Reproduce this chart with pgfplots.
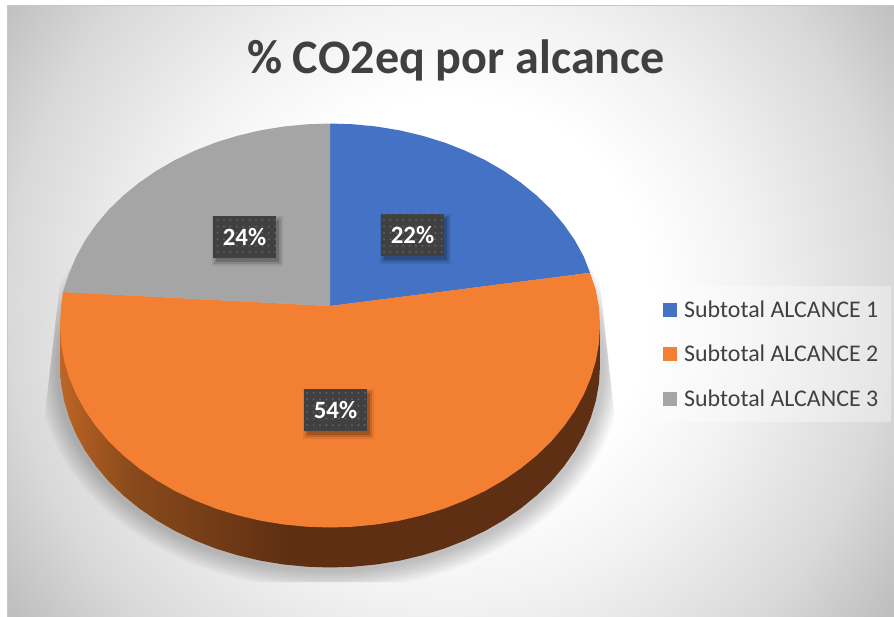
\documentclass[border=0pt]{standalone}
\usepackage{fontspec}
\setmainfont{Carlito}
\usepackage{pgfplots}
\pgfplotsset{compat=1.18}
\usetikzlibrary{patterns.meta}
\definecolor{txt}{HTML}{404040}
\definecolor{blu}{HTML}{4472C4}
\definecolor{org}{HTML}{F37F32}
\definecolor{gry}{HTML}{A5A5A5}
\definecolor{sa}{HTML}{BE6628}
\definecolor{sb}{HTML}{B25E22}
\definecolor{sc}{HTML}{8A4A1B}
\definecolor{sd}{HTML}{5E2F12}
\pgfdeclareradialshading{bgshade}{\pgfpoint{0bp}{0bp}}{
 color(0bp)=(white);color(8.8bp)=(white);color(13.2bp)=(white!95!black);
 color(19.4bp)=(white!85!black);color(23.5bp)=(white!75!black);color(50bp)=(white!75!black)}
\pgfdeclarehorizontalshading{sideshade}{100bp}{
 color(0bp)=(sa);color(25bp)=(sa);color(26.4bp)=(sb);
 color(31.5bp)=(sc);color(46.3bp)=(sd);color(100bp)=(sd)}
\newcommand{\shadowring}[2]{\fill[black,opacity=.024] (axis cs:330,368) ellipse [x radius=#1bp, y radius=#2bp];}
\newcommand{\lab}[3]{%
 \node[fill=black,opacity=.08,minimum width=71bp,minimum height=50bp,inner sep=0pt] at (axis cs:{#1+3},{#2+4}) {};
 \node[fill=black,opacity=.12,minimum width=67bp,minimum height=46bp,inner sep=0pt] at (axis cs:{#1+3},{#2+4}) {};
 \node[fill=black,opacity=.18,minimum width=63bp,minimum height=42bp,inner sep=0pt] at (axis cs:{#1+3},{#2+4}) {};
 \node[fill=txt,minimum width=63bp,minimum height=42bp,inner sep=0pt] at (axis cs:#1,#2) {};
 \node[pattern={Dots[distance=6.4bp,radius=1.1bp]},pattern color=white!16!txt,minimum width=63bp,minimum height=42bp,inner sep=0pt] at (axis cs:#1,#2) {};
 \node[text=white,font=\fontsize{25}{25}\selectfont\bfseries,inner sep=0pt] at (axis cs:#1,#2) {#3};}
\begin{document}
\begin{tikzpicture}
\begin{axis}[
 scale only axis, width=894bp, height=617bp,
 xmin=0, xmax=894, ymin=0, ymax=617, y dir=reverse,
 hide axis, clip=false,
 legend style={at={(axis cs:663,299)},anchor=north west,fill=none,draw=none,
  font=\fontsize{24}{24}\selectfont\color{txt},inner sep=0pt,row sep=22.1bp,
  /tikz/every odd column/.append style={column sep=5bp},legend cell align=left},
 legend image code/.code={\fill[#1] (0bp,-7bp) rectangle (14bp,7bp);},
]
\path (axis cs:0,0) rectangle (axis cs:894,617);
% background
\fill[white!78!black] (axis cs:6.5,5) rectangle (axis cs:894,617);
\begin{scope}
\clip (axis cs:8,7) rectangle (axis cs:894,617);
\shade[shading=bgshade] (axis cs:-120,-270) rectangle (axis cs:1020,870);
\end{scope}
\fill[white,opacity=.35] (axis cs:652,286) rectangle (axis cs:891,422);
% shadow under the pie
\begin{scope}
\clip (axis cs:62,265) -- (axis cs:598,265) -- (axis cs:617,440) -- (axis cs:617,582) -- (axis cs:42,582) -- (axis cs:42,440) -- cycle;
\shadowring{292}{222}\shadowring{290}{220}\shadowring{288}{218}\shadowring{286}{216}\shadowring{284}{214}
\shadowring{282}{212}\shadowring{280}{210}\shadowring{278}{208}\shadowring{276}{206}\shadowring{274}{204}
\end{scope}
% side wall
\addplot[forget plot,draw=none,shade,shading=sideshade] coordinates {
(60,325.5)(60,365.5)(61,383.1)(64.1,400.6)(69.2,417.8)(76.3,434.6)(85.3,450.9)(96.2,466.5)(108.8,481.4)(123.2,495.3)(139.1,508.3)(156.4,520.2)(175.1,531)(195,540.4)(215.9,548.6)(237.7,555.3)(260.1,560.6)(283.1,564.4)(306.5,566.7)(330,567.5)(353.5,566.7)(376.9,564.4)(399.9,560.6)(422.3,555.3)(444.1,548.6)(465,540.4)(484.9,531)(503.6,520.2)(520.9,508.3)(536.8,495.3)(551.2,481.4)(563.8,466.5)(574.7,450.9)(583.7,434.6)(590.8,417.8)(595.9,400.6)(599,383.1)(600,365.5)(600,325.5)};
% slices
\addplot[draw=none,fill=blu] coordinates {
(330,306)(330,123.5)(353.5,124.3)(376.9,126.6)(399.9,130.4)(422.3,135.7)(444.1,142.4)(465,150.6)(484.9,160)(503.6,170.8)(520.9,182.7)(536.8,195.7)(551.2,209.6)(563.8,224.5)(574.7,240.1)(583.7,256.4)(590,272.8)};
\addlegendentry{Subtotal ALCANCE 1}
\addplot[draw=none,fill=org] coordinates {
(330,306)(590,272.8)(595.9,290.4)(599,307.9)(600,325.5)(599,343.1)(595.9,360.6)(590.8,377.8)(583.7,394.6)(574.7,410.9)(563.8,426.5)(551.2,441.4)(536.8,455.3)(520.9,468.3)(503.6,480.2)(484.9,491)(465,500.4)(444.1,508.6)(422.3,515.3)(399.9,520.6)(376.9,524.4)(353.5,526.7)(330,527.5)(306.5,526.7)(283.1,524.4)(260.1,520.6)(237.7,515.3)(215.9,508.6)(195,500.4)(175.1,491)(156.4,480.2)(139.1,468.3)(123.2,455.3)(108.8,441.4)(96.2,426.5)(85.3,410.9)(76.3,394.6)(69.2,377.8)(64.1,360.6)(61,343.1)(60,325.5)(61,307.9)(63,292)};
\addlegendentry{Subtotal ALCANCE 2}
\addplot[draw=none,fill=gry] coordinates {
(330,306)(63,292)(69.2,273.2)(76.3,256.4)(85.3,240.1)(96.2,224.5)(108.8,209.6)(123.2,195.7)(139.1,182.7)(156.4,170.8)(175.1,160)(195,150.6)(215.9,142.4)(237.7,135.7)(260.1,130.4)(283.1,126.6)(306.5,124.3)(330,123.5)};
\addlegendentry{Subtotal ALCANCE 3}
\lab{412.5}{235}{22\%}
\lab{335.5}{410}{54\%}
\lab{244.5}{237}{24\%}
\node[text=txt,font=\fontsize{48.3}{48.3}\selectfont\bfseries,inner sep=0pt] at (axis cs:456,60) {\% CO2eq por alcance};
\end{axis}
\end{tikzpicture}
\end{document}
